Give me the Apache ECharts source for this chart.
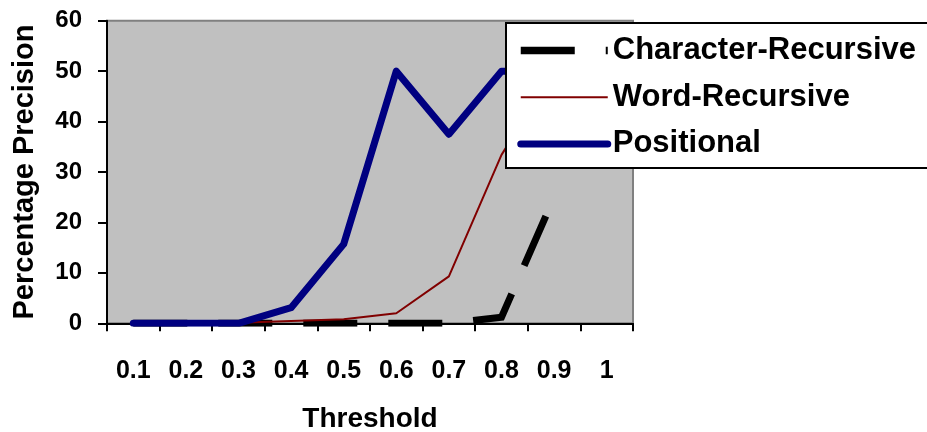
<!DOCTYPE html>
<html>
<head>
<meta charset="utf-8">
<script src="https://cdn.jsdelivr.net/npm/echarts@6/dist/echarts.min.js"></script>
<style>
html,body{margin:0;padding:0;background:#fff;}
#chart{width:927px;height:432px;}
</style>
</head>
<body>
<div id="chart"></div>
<script>
var categories = ['0.1', '0.2', '0.3', '0.4', '0.5', '0.6', '0.7', '0.8', '0.9', '1'];
var characterRecursive = [0, 0, 0, 0, 0, 0, 0, 1.2, 25, null];
var wordRecursive = [0, 0, 0.1, 0.45, 0.8, 2, 9.3, 33.4, 50, null];
var positional = [0, 0, 0, 3.1, 15.7, 50, 37.5, 50, 50, null];
var yTicks = { min: 0, max: 60, interval: 10 };

var FONT = "'Liberation Sans', Arial, sans-serif";
var chart = echarts.init(document.getElementById('chart'), null, { renderer: 'canvas' });
chart.setOption({
  animation: false,
  backgroundColor: '#ffffff',
  grid: {
    left: 107, right: 294, top: 20.7, bottom: 108.7,
    show: true, backgroundColor: '#c0c0c0', borderColor: '#808080', borderWidth: 2,
    containLabel: false,
    outerBoundsMode: 'none'
  },
  legend: {
    orient: 'vertical',
    left: 506, top: 23,
    padding: [12, 40, 8.6, 11],
    itemWidth: 87, itemHeight: 14, itemGap: 15.7,
    backgroundColor: '#ffffff',
    borderColor: '#000000', borderWidth: 2, borderRadius: 0,
    selectedMode: false,
    itemStyle: { opacity: 0, color: 'rgba(0,0,0,0)', borderWidth: 0 },
    textStyle: { fontFamily: FONT, fontWeight: 'bold', fontSize: 31, lineHeight: 31, color: '#000' },
    data: [
      { name: 'Character-Recursive', lineStyle: { width: 7.5, type: [54, 31], cap: 'butt' } },
      { name: 'Word-Recursive', lineStyle: { width: 2 } },
      { name: 'Positional', lineStyle: { width: 7, cap: 'round' } }
    ]
  },
  xAxis: {
    type: 'category',
    data: categories,
    boundaryGap: true,
    name: 'Threshold',
    nameLocation: 'middle',
    nameGap: 82,
    nameTextStyle: { fontFamily: FONT, fontWeight: 'bold', fontSize: 28, color: '#000' },
    axisLine: { show: true, lineStyle: { color: '#000', width: 2 } },
    axisTick: { show: true, length: 8, alignWithLabel: false, lineStyle: { color: '#000', width: 2 } },
    axisLabel: { margin: 35, fontFamily: FONT, fontWeight: 'bold', fontSize: 25, color: '#000', interval: 0 },
    splitLine: { show: false }
  },
  yAxis: {
    type: 'value',
    min: yTicks.min, max: yTicks.max, interval: yTicks.interval,
    name: 'Percentage Precision',
    nameLocation: 'middle',
    nameGap: 68,
    nameTextStyle: { fontFamily: FONT, fontWeight: 'bold', fontSize: 29, color: '#000' },
    axisLine: { show: true, lineStyle: { color: '#000', width: 2 } },
    axisTick: { show: true, length: 9, lineStyle: { color: '#000', width: 2 } },
    axisLabel: { margin: 25, fontFamily: FONT, fontWeight: 'bold', fontSize: 24, color: '#000' },
    splitLine: { show: false }
  },
  series: [
    {
      name: 'Character-Recursive', type: 'line', data: characterRecursive,
      symbol: 'none', showSymbol: false, connectNulls: false,
      lineStyle: { color: '#000000', width: 7, type: [54, 31], cap: 'butt', join: 'miter' },
      itemStyle: { color: '#000000' },
      emphasis: { disabled: true }, z: 2
    },
    {
      name: 'Word-Recursive', type: 'line', data: wordRecursive,
      symbol: 'none', showSymbol: false,
      lineStyle: { color: '#800000', width: 2 },
      itemStyle: { color: '#800000' },
      emphasis: { disabled: true }, z: 2
    },
    {
      name: 'Positional', type: 'line', data: positional,
      symbol: 'none', showSymbol: false,
      lineStyle: { color: '#000080', width: 7, cap: 'round', join: 'round' },
      itemStyle: { color: '#000080' },
      emphasis: { disabled: true }, z: 2
    }
  ]
});
</script>
</body>
</html>
